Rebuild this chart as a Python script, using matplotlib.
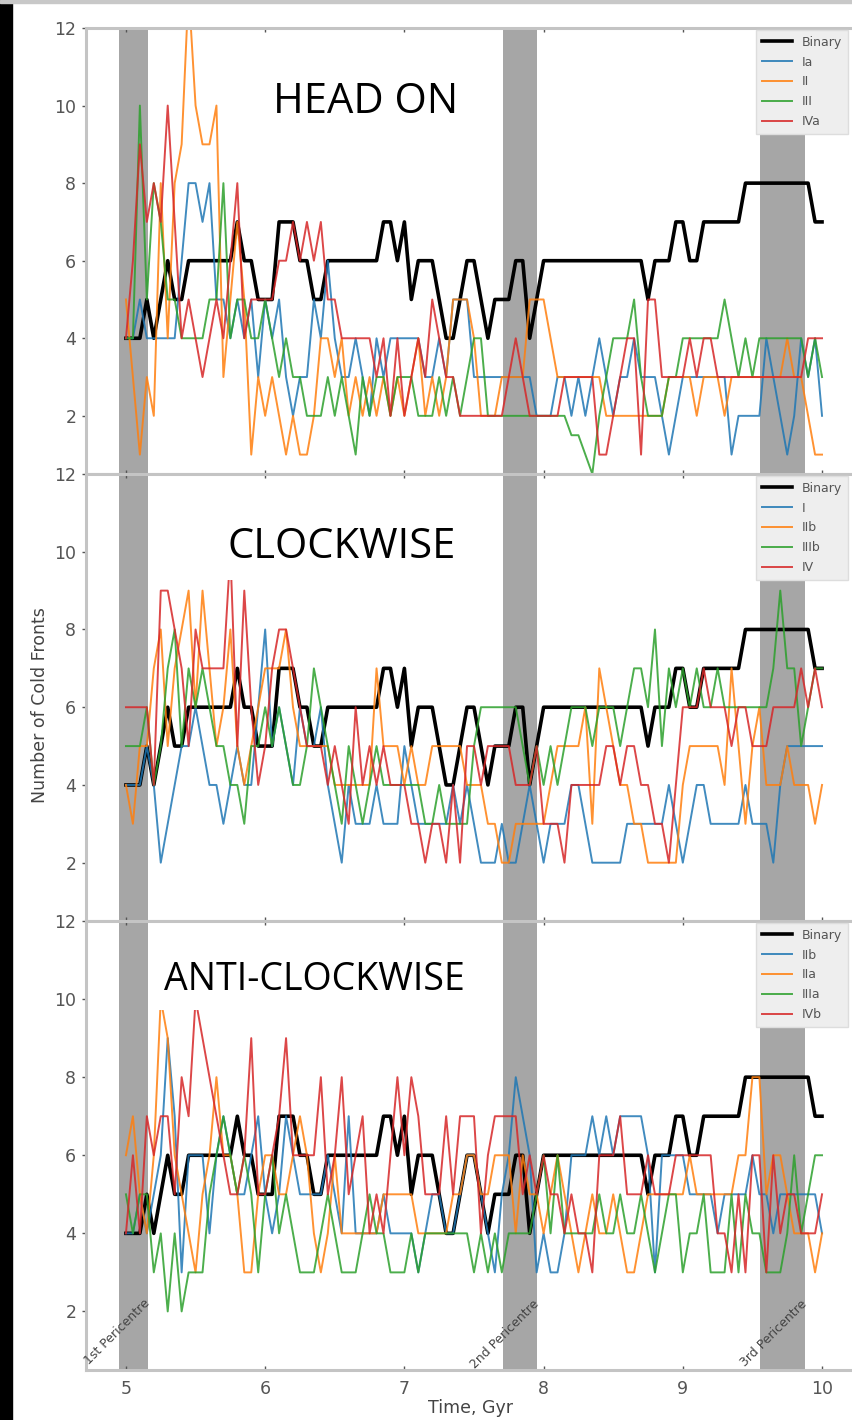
import numpy as np
import matplotlib.pyplot as plt
from matplotlib.patches import Rectangle

# time grid, Gyr
time = np.linspace(5, 10, 101)

binary = [4,4,4,5,4,5,6,5,5,6, 6,6,6,6,6,6,7,6,6,5, 5,5,7,7,7,6,6,5,5,6,
          6,6,6,6,6,6,6,7,7,6, 7,5,6,6,6,5,4,4,5,6, 6,5,4,5,5,5,6,6,4,5,
          6,6,6,6,6,6,6,6,6,6, 6,6,6,6,6,5,6,6,6,7, 7,6,6,7,7,7,7,7,7,8,
          8,8,8,8,8,8,8,8,8,7, 7]

# HEAD ON
head_ia = [4,4,5,4,4,4,4,4,6,8, 8,7,8,5,5,4,5,4,5,3, 5,4,5,3,2,3,3,5,4,6,
           4,3,3,4,3,2,4,3,4,4, 4,4,4,3,3,4,3,5,5,5, 3,3,3,3,3,3,3,3,3,2,
           2,2,3,3,2,3,2,3,4,3, 2,3,3,4,3,3,3,2,1,2, 3,3,3,3,3,3,3,1,2,2,
           2,2,4,3,2,1,2,4,3,4, 2]
head_ii = [5,3,1,3,2,8,4,8,9,13, 10,9,9,10,3,5,7,5,1,3, 2,3,2,1,2,1,1,2,4,4,
           3,4,2,3,2,3,2,3,2,3, 2,3,4,2,3,2,3,5,5,5, 4,2,2,2,3,3,3,3,5,5,
           5,4,3,3,3,3,3,3,3,2, 2,2,2,2,2,2,2,2,3,3, 3,3,2,3,3,3,2,3,3,3,
           3,3,3,3,3,4,3,3,2,1, 1]
head_iii = [4,4,10,5,8,7,5,5,4,4, 4,4,5,5,8,4,5,5,4,4, 5,4,3,4,3,3,2,2,2,3,
            2,3,2,1,3,2,3,3,2,3, 3,3,2,2,2,3,2,3,2,3, 4,4,2,2,2,2,2,2,2,2,
            2,2,2,2,1.5,1.5,1,0.5,2,3, 4,4,4,5,3,2,2,2,3,3, 4,4,4,4,4,4,5,4,3,4,
            3,4,4,4,4,4,4,4,3,4, 3]
head_iva = [4,6,9,7,8,7,10,7,4,5, 4,3,4,5,4,6,8,4,5,5, 5,5,6,6,7,6,7,6,7,5,
            5,4,4,4,4,4,3,4,2,4, 2,3,4,3,5,4,3,3,2,2, 2,2,2,2,2,3,4,3,2,2,
            2,2,2,3,3,3,3,3,1,1, 2,3,4,4,1,5,5,3,3,3, 3,4,3,4,4,3,3,3,3,3,
            3,3,3,3,3,3,3,3,4,4, 4]

# CLOCKWISE
cw_i = [4,4,4,5,4,2,3,4,5,5, 6,5,4,4,3,4,5,4,4,6, 8,5,6,5,4,6,5,5,6,4,
        3,2,4,3,3,3,4,3,3,3, 5,4,3,3,3,3,3,4,3,4, 3,2,2,2,3,2,2,3,4,3,
        2,3,3,3,4,4,3,2,2,2, 2,2,3,3,3,3,3,3,4,3, 2,3,4,4,3,3,3,3,3,4,
        3,3,3,2,4,5,5,5,5,5, 5]
cw_iib = [4,3,5,5,7,8,5,7,8,9, 6,9,7,5,6,8,5,4,5,6, 7,7,7,8,6,5,5,5,5,5,
          4,4,4,4,4,4,7,5,5,5, 4,5,4,4,5,5,5,5,5,4, 4,4,3,3,2,2,3,3,3,3,
          3,4,5,5,5,5,6,3,7,6, 5,4,4,3,3,2,2,2,2,2, 4,5,5,5,5,5,4,7,5,3,
          5,6,4,4,4,5,4,4,4,3, 4]
cw_iiib = [5,5,5,6,4,5,7,8,5,7, 6,7,6,5,5,4,4,3,5,5, 6,5,6,5,4,4,5,7,6,5,
           4,3,5,4,3,4,5,4,4,4, 4,4,4,3,3,4,3,3,3,3, 5,6,6,6,6,6,6,5,4,5,
           4,5,4,5,6,6,6,5,6,6, 6,5,6,7,7,6,8,5,7,6, 7,6,7,6,6,7,6,6,6,6,
           6,6,6,7,9,7,7,5,6,7, 7]
cw_iv = [6,6,6,6,4,9,9,8,7,5, 8,7,7,7,7,10,5,9,6,4, 5,7,8,8,7,6,5,5,5,4,
         5,4,3,6,4,5,4,5,4,4, 4,3,3,2,3,3,2,4,2,5, 5,4,5,5,5,5,4,4,4,5,
         3,3,3,2,4,4,4,4,4,5, 5,4,5,5,4,4,3,3,2,4, 6,6,6,7,6,6,6,5,6,6,
         5,5,5,6,6,6,6,7,6,7, 6]

# ANTI-CLOCKWISE
acw_iib = [4,4,5,4,5,6,9,7,3,6, 6,6,4,6,7,6,5,5,6,7, 5,4,5,7,6,5,5,5,5,6,
           5,4,7,4,4,4,4,5,4,4, 4,4,3,4,5,5,4,4,5,6, 6,5,4,3,5,6,8,7,6,3,
           4,3,3,4,6,6,6,7,6,7, 6,7,7,7,7,6,3,6,6,6, 6,5,5,5,5,4,5,5,5,5,
           6,5,5,4,5,5,5,5,5,5, 4]
acw_iia = [6,7,5,4,6,10,9,6,5,4, 3,5,6,8,6,6,5,3,3,5, 6,6,5,5,6,7,6,4,3,4,
           6,4,4,4,4,4,4,5,5,5, 5,5,4,4,4,4,4,5,5,6, 6,5,5,6,6,6,4,6,5,5,
           4,5,6,5,4,3,4,5,4,4, 5,4,3,3,4,5,5,5,5,5, 5,6,5,5,5,5,5,5,6,6,
           8,8,5,6,6,5,4,4,4,3, 4]
acw_iiia = [5,4,5,5,3,4,2,4,2,3, 3,3,5,6,7,6,5,6,5,3, 5,6,4,5,4,3,3,3,4,5,
            4,3,3,3,4,5,4,4,3,3, 3,4,3,4,4,4,4,4,4,4, 3,4,3,4,3,4,4,4,4,5,
            6,4,6,4,4,4,4,4,5,4, 4,5,4,4,5,4,3,4,5,5, 3,4,4,5,3,3,3,5,3,5,
            4,4,3,3,3,4,6,4,5,6, 6]
acw_ivb = [4,6,4,7,6,7,7,5,8,7, 10,9,8,7,6,5,5,6,9,5, 5,6,7,9,6,6,6,6,8,5,
           6,8,5,6,7,4,5,4,6,8, 6,8,7,5,5,5,7,5,7,7, 7,4,6,7,7,7,7,5,6,5,
           6,5,5,4,5,4,4,3,6,6, 6,7,5,5,5,6,5,5,5,6, 6,6,6,6,6,4,4,3,5,3,
           6,6,3,6,4,5,5,4,4,4, 5]

pericentres = [(4.95, 5.158), (7.71, 7.95), (9.555, 9.878)]
peri_labels = ["1st Pericentre", "2nd Pericentre", "3rd Pericentre"]
colors = ["tab:blue", "tab:orange", "tab:green", "tab:red"]

panels = [
    ("HEAD ON", [head_ia, head_ii, head_iii, head_iva], ["Ia", "II", "III", "IVa"]),
    ("CLOCKWISE", [cw_i, cw_iib, cw_iiib, cw_iv], ["I", "IIb", "IIIb", "IV"]),
    ("ANTI-CLOCKWISE", [acw_iib, acw_iia, acw_iiia, acw_ivb], ["IIb", "IIa", "IIIa", "IVb"]),
]

W, H = 853, 1420
fig = plt.figure(figsize=(W / 100, H / 100), dpi=100)

# pixel edges of the three panels
left_px, right_px = 86, 856
edges = [(28, 474), (474, 921), (921, 1370)]
title_pos = [(366, 113), (342, 558), (314, 990)]
title_size = [30, 30, 27]

for k, (name, series, labels) in enumerate(panels):
    top, bot = edges[k]
    ax = fig.add_axes([left_px / W, 1 - bot / H, (right_px - left_px) / W, (bot - top) / H])
    for lo, hi in pericentres:
        ax.axvspan(lo, hi, color="#a6a6a6", lw=0, zorder=0)
    ax.plot(time, binary, color="black", lw=2.6, label="Binary")
    for vals, lab, c in zip(series, labels, colors):
        ax.plot(time, vals, color=c, lw=1.4, alpha=0.85, label=lab)

    ax.set_xlim(4.713, 10.244)
    ax.set_ylim(0.5, 12)
    ax.set_xticks(range(5, 11))
    ax.set_yticks([2, 4, 6, 8, 10, 12])
    for s in ax.spines.values():
        s.set_color("#c4c4c4")
        s.set_linewidth(2.2)
    ax.spines["right"].set_visible(False)
    ax.tick_params(axis="both", colors="#555555", labelsize=12.5, length=3, width=1)
    ax.tick_params(axis="x", direction="in", top=True, pad=7)
    ax.tick_params(axis="y", pad=4)
    if k < 2:
        ax.tick_params(axis="x", labelbottom=False)

    leg = ax.legend(loc="upper right", bbox_to_anchor=(1 - 8 / 770, 1 - 2 / 446),
                    borderaxespad=0, fontsize=9, facecolor="#eeeeee",
                    edgecolor="#dddddd", framealpha=1, fancybox=False,
                    handlelength=2.4, labelspacing=0.55, borderpad=0.45)
    for t in leg.get_texts():
        t.set_color("#555555")

    tx, ty = title_pos[k]
    fig.text(tx / W, 1 - ty / H, name, family="Open Sans", fontsize=title_size[k],
             ha="center", va="baseline", color="black", zorder=5,
             bbox=dict(boxstyle="square,pad=0.3", fc="white", ec="none"))

    if k == 2:
        for (lo, hi), lab in zip(pericentres, peri_labels):
            ax.text(hi, 2.25, lab, rotation=45, rotation_mode="anchor",
                    ha="right", va="center", fontsize=9, color="#444444")

fig.text(40 / W, 1 - 705 / H, "Number of Cold Fronts", rotation=90,
         ha="center", va="center", fontsize=12.5, color="#444444")
fig.text(471 / W, 1 - 1408 / H, "Time, Gyr", ha="center", va="center",
         fontsize=12.5, color="#444444")

# screenshot frame: dark strip on the left, grey line on top
fig.patches.append(Rectangle((0, 0), 12 / W, 1, transform=fig.transFigure,
                             color="black", zorder=10))
fig.patches.append(Rectangle((0, 1 - 3 / H), 1, 3 / H, transform=fig.transFigure,
                             color="#c8c8c8", zorder=10))

fig.savefig("out.png", dpi=100)
